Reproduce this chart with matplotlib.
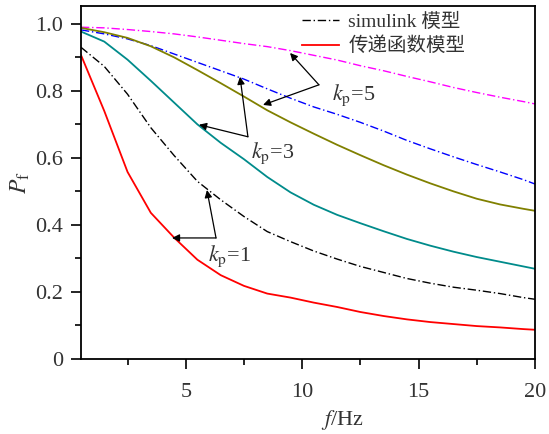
import numpy as np
import matplotlib
matplotlib.use("Agg")
import matplotlib.pyplot as plt

plt.rcParams['font.family'] = ['Liberation Serif', 'Noto Sans CJK SC', 'DejaVu Sans']
plt.rcParams['mathtext.fontset'] = 'stix'

# frequency points (Hz)
f = [0.5, 1.5, 2.5, 3.5, 4.5, 5.5, 6.5, 7.5, 8.5, 9.5, 10.5,
     11.5, 12.5, 13.5, 14.5, 15.5, 16.5, 17.5, 18.5, 19.5, 20]

# transfer function model
tf_kp1 = [0.907, 0.74, 0.558, 0.436, 0.362, 0.296, 0.25, 0.218, 0.195, 0.183, 0.168,
          0.155, 0.14, 0.128, 0.118, 0.11, 0.104, 0.098, 0.094, 0.089, 0.087]
tf_kp3 = [0.977, 0.947, 0.893, 0.83, 0.765, 0.70, 0.645, 0.596, 0.543, 0.497, 0.46,
          0.43, 0.405, 0.381, 0.358, 0.338, 0.32, 0.304, 0.29, 0.276, 0.269]
tf_kp5 = [0.988, 0.975, 0.958, 0.933, 0.90, 0.862, 0.823, 0.783, 0.742, 0.706, 0.672,
          0.639, 0.608, 0.578, 0.55, 0.524, 0.5, 0.478, 0.461, 0.448, 0.442]

# simulink model
sim_kp1 = [0.93, 0.873, 0.79, 0.69, 0.607, 0.53, 0.475, 0.425, 0.38, 0.35, 0.322,
           0.298, 0.276, 0.258, 0.24, 0.226, 0.214, 0.205, 0.195, 0.183, 0.178]
sim_kp3 = [0.982, 0.97, 0.955, 0.935, 0.91, 0.885, 0.86, 0.835, 0.806, 0.778, 0.752,
           0.73, 0.706, 0.68, 0.652, 0.627, 0.603, 0.58, 0.558, 0.535, 0.522]
sim_kp5 = [0.99, 0.988, 0.983, 0.977, 0.97, 0.961, 0.951, 0.941, 0.932, 0.92, 0.906,
           0.892, 0.875, 0.86, 0.843, 0.827, 0.81, 0.795, 0.781, 0.768, 0.761]

dashdot = (0, (6, 2, 1, 2))

fig = plt.figure(figsize=(5.49, 4.34), dpi=100)
ax = fig.add_axes([0.1475, 0.173, 0.827, 0.813])

ax.plot(f, sim_kp5, color='#ff00ff', lw=1.0, ls=dashdot)
ax.plot(f, sim_kp3, color='#0000ff', lw=1.0, ls=dashdot)
ax.plot(f, tf_kp5, color='#808000', lw=1.3)
ax.plot(f, tf_kp3, color='#008b8b', lw=1.3)
l1, = ax.plot(f, sim_kp1, color='k', lw=1.0, ls=dashdot)
l2, = ax.plot(f, tf_kp1, color='#ff0000', lw=1.3)

ax.set_xlim(0.5, 20)
ax.set_ylim(0, 1.053)
ax.set_xticks([5, 10, 15, 20])
ax.set_xticks([2.5, 7.5, 12.5, 17.5], minor=True)
ax.set_yticks([0, 0.2, 0.4, 0.6, 0.8, 1.0])
ax.set_yticklabels(['0', '0.2', '0.4', '0.6', '0.8', '1.0'])
ax.set_yticks([0.1, 0.3, 0.5, 0.7, 0.9], minor=True)
ax.tick_params(which='major', direction='out', length=7, width=1.2, labelsize=16,
               labelcolor='#333333', pad=6)
ax.tick_params(which='minor', direction='out', length=4, width=1.2)
ax.tick_params(axis='x', pad=10)
for s in ax.spines.values():
    s.set_linewidth(1.3)

ax.set_xlabel('$f$/Hz', fontsize=16, color='#333333')
ax.xaxis.set_label_coords(0.577, -0.138)
ax.set_ylabel(r'$P_{\mathrm{f}}$', fontsize=17, color='#333333', labelpad=2)

leg = ax.legend([l1, l2], ['simulink 模型', '传递函数模型'], loc='upper left',
                bbox_to_anchor=(0.452, 1.025), frameon=False, fontsize=14,
                handlelength=1.9, handletextpad=0.5, labelspacing=0.3, borderpad=0.3)
for t in leg.get_texts():
    t.set_color('#333333')

arw = dict(arrowstyle='-|>', color='k', lw=0.9, mutation_scale=11, shrinkA=0, shrinkB=0)

# k_p = 5
ax.annotate('', xy=(9.48, 0.913), xytext=(10.72, 0.818), arrowprops=arw)
ax.annotate('', xy=(8.32, 0.758), xytext=(10.72, 0.818), arrowprops=arw)
ax.text(12.23, 0.788, r'$k_{\mathrm{p}}$=5', fontsize=16, color='#333333', ha='center', va='center')

# k_p = 3
ax.annotate('', xy=(7.33, 0.842), xytext=(7.67, 0.663), arrowprops=arw)
ax.annotate('', xy=(5.57, 0.699), xytext=(7.67, 0.663), arrowprops=arw)
ax.text(8.75, 0.615, r'$k_{\mathrm{p}}$=3', fontsize=16, color='#333333', ha='center', va='center')

# k_p = 1
ax.annotate('', xy=(5.91, 0.504), xytext=(6.3, 0.361), arrowprops=arw)
ax.annotate('', xy=(4.41, 0.361), xytext=(6.3, 0.361), arrowprops=arw)
ax.text(6.86, 0.307, r'$k_{\mathrm{p}}$=1', fontsize=16, color='#333333', ha='center', va='center')

fig.savefig('out.png', dpi=100)
